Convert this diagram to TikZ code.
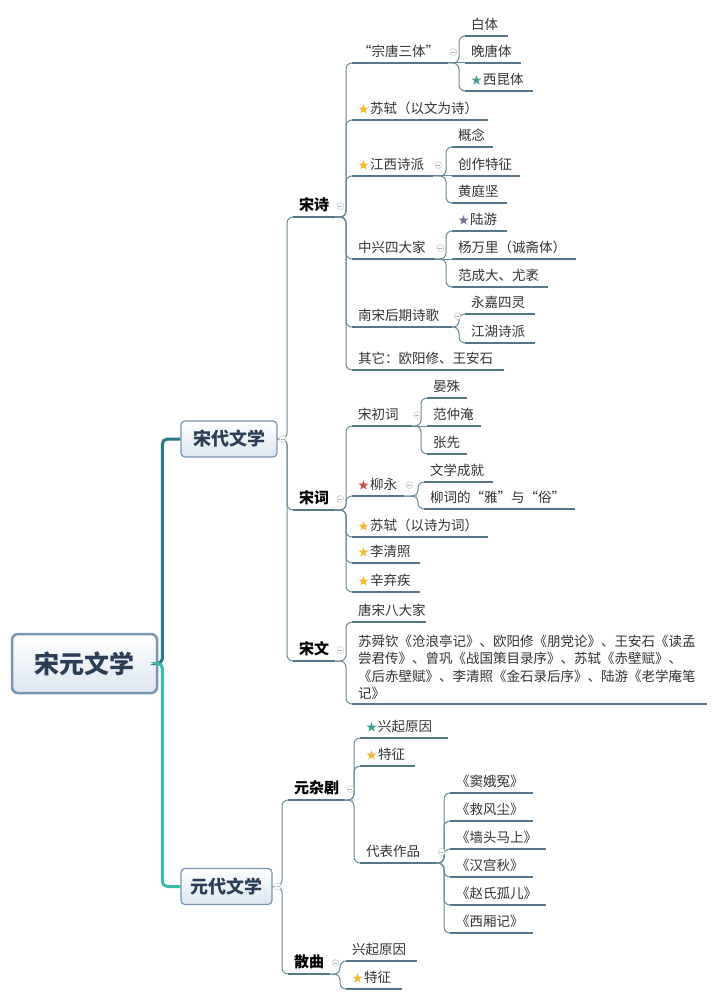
\documentclass[tikz,border=0pt]{standalone}
\usepackage{fontspec}
\setmainfont{Noto Sans CJK SC}
\usepackage{tikz}
\usetikzlibrary{calc}

\definecolor{inkgray}{HTML}{333333}
\definecolor{ulblue}{HTML}{56778A}
\definecolor{lnblue}{HTML}{6A8A99}
\definecolor{darkteal}{HTML}{2B7A86}
\definecolor{liteal}{HTML}{3DBCAC}
\definecolor{boxedge}{HTML}{7896B2}
\definecolor{boxfill}{HTML}{DCE5EF}
\definecolor{boxtext}{HTML}{2C3E55}
\definecolor{stargold}{HTML}{F2B632}
\definecolor{starteal}{HTML}{3A9E8F}
\definecolor{starred}{HTML}{C9504A}
\definecolor{starslate}{HTML}{6B6F91}

\newcommand{\markstar}[1]{{\color{#1}\fontsize{11}{11}\selectfont ★}\hspace{1pt}}

\begin{document}
\begin{tikzpicture}[x=1pt,y=-1pt,
  uline/.style={draw=ulblue,line width=1.7pt},
  conn/.style={draw=lnblue,line width=1pt,rounded corners=6pt},
  trunk/.style={line width=3pt,rounded corners=5pt},
  txt/.style={inner xsep=6pt,inner ysep=4pt,align=left,text=inkgray,
    font=\fontsize{13.5}{17.5}\selectfont,
    append after command={(\tikzlastnode.south west) edge[uline] (\tikzlastnode.south east)}},
  leaf/.style={txt,anchor=south west,text height=11pt,text depth=2pt,text width=#1},
  branch/.style={leaf=#1,text=black,font=\fontsize{15}{17}\selectfont\bfseries},
  rootbox/.style={draw=boxedge,line width=2.5pt,rounded corners=6pt,top color=white,bottom color=boxfill,
    text=boxtext,font=\fontsize{25}{25}\selectfont\bfseries,minimum width=145pt,minimum height=59pt},
  catbox/.style={draw=boxedge,line width=1.2pt,rounded corners=4pt,top color=white,bottom color=boxfill,
    text=boxtext,font=\fontsize{18}{18}\selectfont\bfseries,minimum height=36pt},
  foldmark/.style={circle,draw=gray!45,fill=white,line width=0.5pt,minimum size=7pt,inner sep=0pt,
    path picture={\draw[gray!60,line width=0.6pt] ([xshift=-2pt]path picture bounding box.center) -- ([xshift=2pt]path picture bounding box.center);}}]

  \fill[white] (0,0) rectangle (719,1000);
  \useasboundingbox (0,0) rectangle (719,1000);

  % Root and the two periods
  \node[rootbox] (root) at (84.5,663.5) {宋元文学};
  \node[catbox,minimum width=96pt] (song) at (229,439) {宋代文学};
  \node[catbox,minimum width=91pt] (yuan) at (226.5,886.5) {元代文学};

  % Song: poetry, ci, prose
  \node[branch=30pt] (shi) at (293,217) {宋诗};
  \node[branch=30pt] (ci) at (293,510) {宋词};
  \node[branch=30pt] (wen) at (293,661) {宋文};

  % Song poetry
  \node[leaf=84pt] (zt) at (352,63) {“宗唐三体”};
  \node[leaf=124pt] (sswen) at (352,120) {\markstar{stargold}苏轼（以文为诗）};
  \node[leaf=69pt] (jx) at (352,176) {\markstar{stargold}江西诗派};
  \node[leaf=71pt] (zx) at (352,259) {中兴四大家};
  \node[leaf=88pt] (nh) at (352,327) {南宋后期诗歌};
  \node[leaf=140pt] (qt) at (352,370) {其它：欧阳修、王安石};

  \node[leaf=31pt] (bai) at (465,36) {白体};
  \node[leaf=44pt] (wt) at (465,63) {晚唐体};
  \node[leaf=56pt] (xk) at (465,91) {\markstar{starteal}西昆体};
  \node[leaf=29pt] (gn) at (452,147) {概念};
  \node[leaf=56pt] (czt) at (452,176) {创作特征};
  \node[leaf=43pt] (htj) at (452,203) {黄庭坚};
  \node[leaf=43pt] (lyou) at (452,231) {\markstar{starslate}陆游};
  \node[leaf=112pt] (ywl) at (452,259) {杨万里（诚斋体）};
  \node[leaf=84pt] (fcd) at (452,287) {范成大、尤袤};
  \node[leaf=58pt] (yj) at (465,314) {永嘉四灵};
  \node[leaf=58pt] (jh) at (465,343) {江湖诗派};

  % Song ci
  \node[leaf=48pt] (scc) at (352,426) {宋初词};
  \node[leaf=40pt] (liu) at (352,496) {\markstar{starred}柳永};
  \node[leaf=124pt] (ssci) at (352,537) {\markstar{stargold}苏轼（以诗为词）};
  \node[leaf=56pt] (lqz) at (352,563) {\markstar{stargold}李清照};
  \node[leaf=56pt] (xqj) at (352,592) {\markstar{stargold}辛弃疾};

  \node[leaf=28pt] (ys) at (427,398) {晏殊};
  \node[leaf=42pt] (fzy) at (427,426) {范仲淹};
  \node[leaf=28pt] (zxian) at (427,454) {张先};
  \node[leaf=57pt] (wxcj) at (424,482) {文学成就};
  \node[leaf=139pt] (yasu) at (424,509) {柳词的“雅”与“俗”};

  % Song prose
  \node[leaf=62pt] (tsb) at (352,622) {唐宋八大家};
  \node[txt,anchor=south west,text width=343pt] (swl) at (352,704)
    {苏舜钦《沧浪亭记》、欧阳修《朋党论》、王安石《读孟\\尝君传》、曾巩《战国策目录序》、苏轼《赤壁赋》、\\《后赤壁赋》、李清照《金石录后序》、陆游《老学庵笔\\记》};

  % Yuan
  \node[branch=45pt] (zaju) at (288,800) {元杂剧};
  \node[branch=30pt] (sanqu) at (288,974) {散曲};

  \node[leaf=76pt] (xqyy) at (360,738) {\markstar{starteal}兴起原因};
  \node[leaf=43pt] (tezh) at (360,766) {\markstar{stargold}特征};
  \node[leaf=64pt] (dbzp) at (360,863) {代表作品};

  \node[leaf=71pt] (dew) at (450,793) {《窦娥冤》};
  \node[leaf=71pt] (jfc) at (450,821) {《救风尘》};
  \node[leaf=84pt] (qtms) at (450,849) {《墙头马上》};
  \node[leaf=71pt] (hgq) at (450,877) {《汉宫秋》};
  \node[leaf=84pt] (zsge) at (450,905) {《赵氏孤儿》};
  \node[leaf=71pt] (xxj) at (450,933) {《西厢记》};

  \node[leaf=59pt] (xqyy2) at (346,961) {兴起原因};
  \node[leaf=44pt] (tezh2) at (346,989) {\markstar{stargold}特征};

  % Trunk
  \draw[trunk,darkteal] (root.east) -| ([xshift=-18pt]song.west) -- (song.west);
  \draw[trunk,liteal] (root.east) -| ([xshift=-18pt]yuan.west) -- (yuan.west);

  % Connectors
  \foreach \c in {shi,ci,wen}
    \draw[conn] (song.east) -| ([xshift=-6pt]\c.south west) -- (\c.south west);
  \foreach \c in {zt,sswen,jx,zx,nh,qt}
    \draw[conn] (shi.south east) -| ([xshift=-6pt]\c.south west) -- (\c.south west);
  \foreach \c in {bai,xk}
    \draw[conn] (zt.south east) -| ([xshift=-6pt]\c.south west) -- (\c.south west);
  \draw[conn] (zt.south east) -- (wt.south west);
  \foreach \c in {gn,htj}
    \draw[conn] (jx.south east) -| ([xshift=-6pt]\c.south west) -- (\c.south west);
  \draw[conn] (jx.south east) -- (czt.south west);
  \foreach \c in {lyou,fcd}
    \draw[conn] (zx.south east) -| ([xshift=-6pt]\c.south west) -- (\c.south west);
  \draw[conn] (zx.south east) -- (ywl.south west);
  \foreach \c in {yj,jh}
    \draw[conn] (nh.south east) -| ([xshift=-6pt]\c.south west) -- (\c.south west);

  \foreach \c in {scc,liu,ssci,lqz,xqj}
    \draw[conn] (ci.south east) -| ([xshift=-6pt]\c.south west) -- (\c.south west);
  \foreach \c in {ys,zxian}
    \draw[conn] (scc.south east) -| ([xshift=-6pt]\c.south west) -- (\c.south west);
  \draw[conn] (scc.south east) -- (fzy.south west);
  \foreach \c in {wxcj,yasu}
    \draw[conn] (liu.south east) -| ([xshift=-6pt]\c.south west) -- (\c.south west);
  \foreach \c in {tsb,swl}
    \draw[conn] (wen.south east) -| ([xshift=-6pt]\c.south west) -- (\c.south west);

  \foreach \c in {zaju,sanqu}
    \draw[conn] (yuan.east) -| ([xshift=-6pt]\c.south west) -- (\c.south west);
  \foreach \c in {xqyy,tezh,dbzp}
    \draw[conn] (zaju.south east) -| ([xshift=-6pt]\c.south west) -- (\c.south west);
  \foreach \c in {dew,jfc,qtms,hgq,zsge,xxj}
    \draw[conn] (dbzp.south east) -| ([xshift=-6pt]\c.south west) -- (\c.south west);
  \foreach \c in {xqyy2,tezh2}
    \draw[conn] (sanqu.south east) -| ([xshift=-6pt]\c.south west) -- (\c.south west);

  % Fold markers
  \foreach \p in {shi,ci,wen,zt,jx,zx,nh,scc,liu,zaju,dbzp,sanqu}
    \node[foldmark] (\p-fold) at ([shift={(5,-11)}]\p.south east) {};
  \node[foldmark] (song-fold) at ([xshift=5pt]song.east) {};
  \node[foldmark] (yuan-fold) at ([xshift=5pt]yuan.east) {};

\end{tikzpicture}
\end{document}
